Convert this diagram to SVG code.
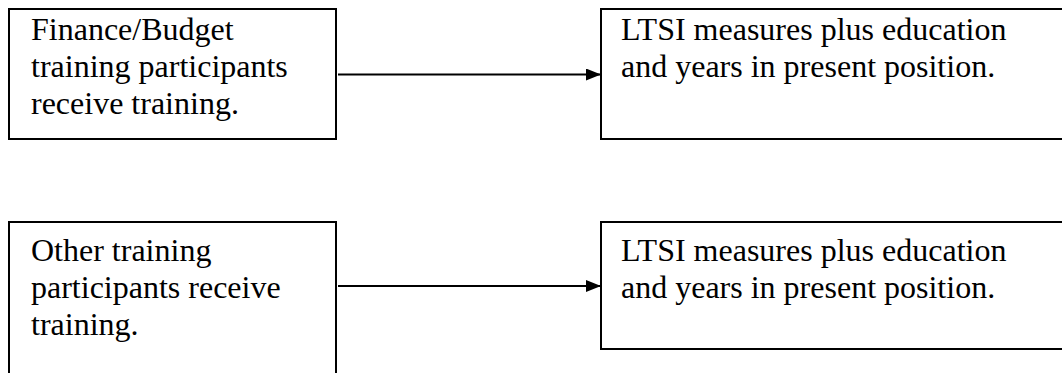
<svg xmlns="http://www.w3.org/2000/svg" width="1062" height="373" viewBox="0 0 1062 373">
  <style>
    .box { fill: #ffffff; stroke: #000000; stroke-width: 2; }
    .label { font-family: "Liberation Serif", "Times New Roman", serif; font-size: 32px; fill: #000000; }
    .link { stroke: #000000; stroke-width: 2; fill: none; }
  </style>
  <defs>
    <marker id="arrowhead" viewBox="0 0 15 12" refX="15" refY="6" markerWidth="15" markerHeight="12" markerUnits="userSpaceOnUse" orient="auto">
      <path d="M0,0 L15,6 L0,12 Z" fill="#000000"/>
    </marker>
  </defs>
  <rect width="1062" height="373" fill="#ffffff"/>

  <!-- Finance/Budget group -->
  <g id="finance-training">
    <rect class="box" x="9" y="9" width="327" height="130"/>
    <text class="label">
      <tspan x="31" y="40">Finance/Budget</tspan>
      <tspan x="31" y="77">training participants</tspan>
      <tspan x="31" y="114">receive training.</tspan>
    </text>
  </g>

  <g id="finance-measures">
    <rect class="box" x="601" y="9" width="470" height="130"/>
    <text class="label">
      <tspan x="621" y="40">LTSI measures plus education</tspan>
      <tspan x="621" y="77">and years in present position.</tspan>
    </text>
  </g>

  <!-- Comparison group -->
  <g id="other-training">
    <rect class="box" x="9" y="222" width="327" height="200"/>
    <text class="label">
      <tspan x="31" y="261">Other training</tspan>
      <tspan x="31" y="298">participants receive</tspan>
      <tspan x="31" y="335">training.</tspan>
    </text>
  </g>

  <g id="other-measures">
    <rect class="box" x="601" y="222" width="470" height="127"/>
    <text class="label">
      <tspan x="621" y="261">LTSI measures plus education</tspan>
      <tspan x="621" y="298">and years in present position.</tspan>
    </text>
  </g>

  <!-- Connectors -->
  <g id="connectors">
    <line class="link" x1="338" y1="74.5" x2="601" y2="74.5" marker-end="url(#arrowhead)"/>
    <line class="link" x1="338" y1="286" x2="601" y2="286" marker-end="url(#arrowhead)"/>
  </g>
</svg>
